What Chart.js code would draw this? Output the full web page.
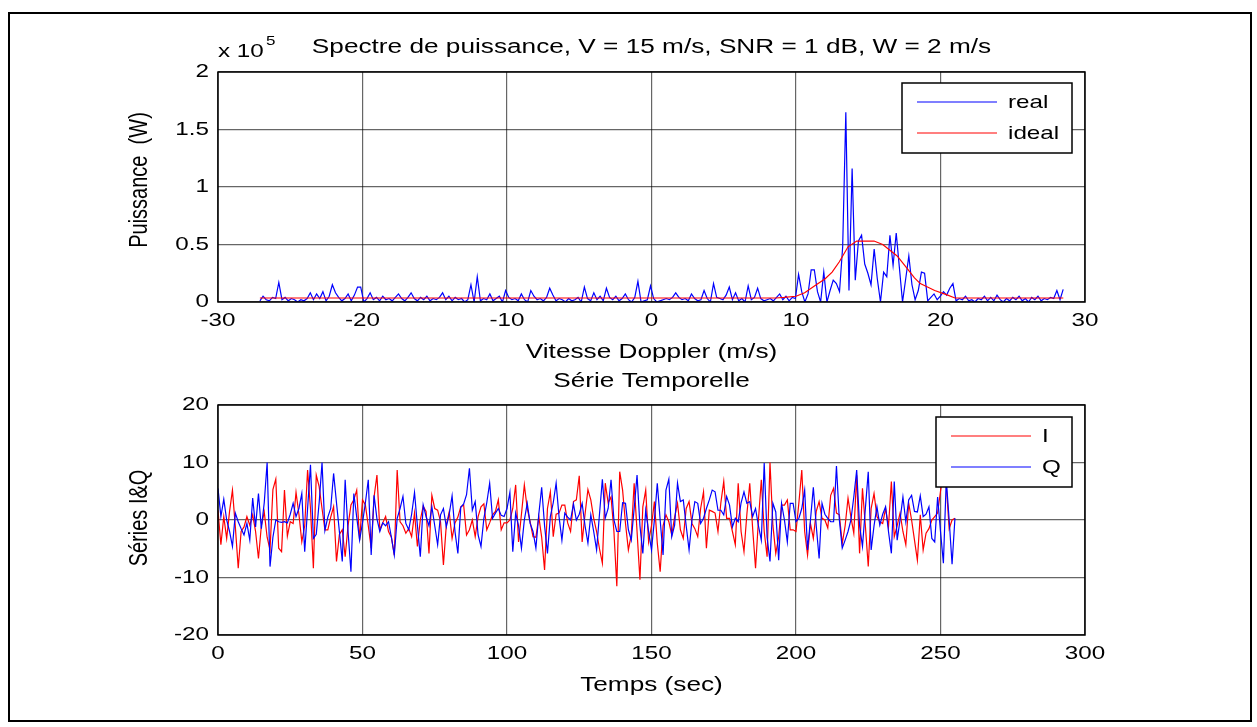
<!DOCTYPE html>
<html>
<head>
<meta charset="utf-8">
<title>Spectre de puissance</title>
<script src="https://cdn.jsdelivr.net/npm/chart.js@4.4.1/dist/chart.umd.min.js"></script>
<style>
    body { margin: 0; background: #fff; }
    #cadre { position: absolute; left: 8px; top: 12px; width: 1240px; height: 706px; border: 2px solid #000; }
    .zone { position: absolute; left: 0; width: 1257px; }
</style>
</head>
<body>
<div id="cadre"></div>
<div class="zone" style="top:0;height:365px"><canvas id="spectreChart"></canvas></div>
<div class="zone" style="top:365px;height:362px"><canvas id="serieChart"></canvas></div>
<script>
// Spectre : 256 bins en vitesse, puissance en unités de 1e5 W
const vitesseMin = -27.1;
const pasVitesse = 0.218;
const puissanceReelle = [
    0.01, 0.05, 0.02, 0.01, 0.04, 0.03, 0.17, 0.02, 0.04, 0.01,
    0.03, 0.02, 0.00, 0.02, 0.01, 0.03, 0.08, 0.02, 0.07, 0.03,
    0.09, 0.01, 0.05, 0.15, 0.08, 0.04, 0.01, 0.03, 0.07, 0.01,
    0.06, 0.13, 0.13, 0.00, 0.03, 0.08, 0.02, 0.04, 0.01, 0.05,
    0.02, 0.03, 0.01, 0.04, 0.07, 0.03, 0.01, 0.04, 0.08, 0.03,
    0.01, 0.04, 0.02, 0.05, 0.01, 0.03, 0.02, 0.04, 0.08, 0.02,
    0.05, 0.01, 0.04, 0.02, 0.03, 0.00, 0.02, 0.15, 0.00, 0.22,
    0.01, 0.03, 0.02, 0.07, 0.01, 0.03, 0.05, 0.00, 0.10, 0.04,
    0.02, 0.03, 0.01, 0.07, 0.02, 0.00, 0.10, 0.05, 0.02, 0.03,
    0.01, 0.04, 0.12, 0.06, 0.01, 0.03, 0.02, 0.00, 0.03, 0.01,
    0.02, 0.04, 0.00, 0.13, 0.03, 0.01, 0.08, 0.02, 0.05, 0.01,
    0.12, 0.04, 0.02, 0.05, 0.01, 0.03, 0.07, 0.02, 0.00, 0.04,
    0.18, 0.00, 0.01, 0.02, 0.14, 0.03, 0.00, 0.01, 0.02, 0.03,
    0.02, 0.04, 0.08, 0.04, 0.02, 0.03, 0.01, 0.07, 0.03, 0.01,
    0.02, 0.10, 0.03, 0.00, 0.16, 0.04, 0.03, 0.02, 0.06, 0.13,
    0.02, 0.08, 0.01, 0.03, 0.00, 0.14, 0.02, 0.04, 0.12, 0.03,
    0.01, 0.02, 0.03, 0.01, 0.04, 0.07, 0.02, 0.05, 0.01, 0.04,
    0.03, 0.24, 0.09, 0.00, 0.07, 0.28, 0.28, 0.09, 0.00, 0.26,
    0.00, 0.10, 0.19, 0.16, 0.09, 0.48, 1.65, 0.10, 1.16, 0.19,
    0.53, 0.58, 0.33, 0.25, 0.15, 0.46, 0.20, 0.00, 0.26, 0.22,
    0.58, 0.32, 0.60, 0.30, 0.00, 0.20, 0.40, 0.15, 0.02, 0.10,
    0.26, 0.25, 0.01, 0.04, 0.07, 0.02, 0.05, 0.09, 0.06, 0.12,
    0.16, 0.01, 0.03, 0.02, 0.05, 0.01, 0.02, 0.00, 0.03, 0.02,
    0.05, 0.01, 0.04, 0.01, 0.06, 0.02, 0.00, 0.03, 0.01, 0.04,
    0.02, 0.05, 0.01, 0.03, 0.00, 0.04, 0.02, 0.05, 0.01, 0.03,
    0.02, 0.04, 0.03, 0.10, 0.02, 0.11
];
// Spectre théorique (gaussienne + plancher de bruit)
const vitesseIdeale = [-27.1, 8.6, 9.2, 10.0, 10.6, 11.4, 12.0, 12.5, 13.0, 13.6, 14.2,
    15.4, 16.0, 16.5, 17.0, 17.7, 18.2, 18.6, 19.1, 19.6, 20.5, 21.0, 28.5];
const puissanceIdeale = [0.035, 0.035, 0.04, 0.05, 0.08, 0.15, 0.20, 0.26, 0.35, 0.48, 0.53,
    0.53, 0.50, 0.45, 0.40, 0.29, 0.21, 0.16, 0.13, 0.10, 0.06, 0.035, 0.035];

// Série temporelle I/Q, un échantillon par seconde
const serieI = [
    1.7, -4.3, 0.6, -3.2, 1.5, 5.2, -1.2, -8.4, -2, -1.2,
    0.6, -0.9, 0.9, -2, -6.7, -1, 1.4, -3, -5.2, 5.3,
    7.1, -4.9, -5.5, 5.2, -2.8, -0.3, -0.6, 4.8, 1, -3.8,
    -1, 8.7, 2, -8.4, 7.8, 5.8, 2, -1.7, -1.7, 0.5,
    2.3, -7.2, -2.5, -1.7, -6.4, -1, 2.6, 3.5, 5.2, -3.5,
    3.5, 2.6, -1, -4.9, 4, 7.8, -1.7, -0.5, 0.6, -2,
    -3, -6.1, 8.7, -0.3, -1, -2.3, -1.5, -2.9, 1.2, -4.6,
    0, 2.4, 1.5, -5.8, 4.3, 2, 1.7, -0.3, -7.8, -0.9,
    1.4, -3.2, -0.5, 0.5, 2.3, 2.6, -2.6, -1.7, 0, -2.9,
    0.6, 2.3, 2.8, -1.7, -0.5, 0.9, 1.5, 3.5, -1.7, -0.5,
    -0.5, 0, 2, 6.1, -3.8, 1, 6.1, 2, -0.3, -2.9,
    -3, 0.6, -3, -8.7, 2, 4.9, -2.9, 1, 1.2, 2.6,
    2.6, -0.5, -2, 3.2, 3.5, 7.7, -3.8, 1, 5.3, 3.5,
    0.3, -2, -5, -7.5, 6.4, 3, 4, -2, -11.5, 8.4,
    5.2, -0.6, -5.2, -2.6, 6.4, -2, -10.4, 2.3, 5.2, -3.8,
    -1, 3.2, -4, -9, -1, 0.9, -0.3, -2.6, 0.5, 2.9,
    -1.7, -3.2, 2, 3.2, -0.6, -1.5, -2.9, 2, 4.9, -4.9,
    1.7, 1.5, 1.2, -2, 3, 6.7, 0.3, 0.3, -2, -4.3,
    6.4, -2, -5.5, 1, 6.4, -1.5, -8.4, 0, 7, -2,
    -6.4, 10, -0.9, -5.8, -3, 2.6, 2.6, 3.5, -1.7, -1.7,
    -2, 3, 8.7, -2, -6.1, -0.6, -3.2, 1.5, 3.2, 0.3,
    0, -1.4, 4.3, 5.5, 1.2, 0.9, -4.1, -1, 3.8, 0.5,
    -2.3, 7.8, -5.8, 5.5, -1, -8.1, 2, 4.6, 0.6, -0.3,
    -0.6, 2, -1.2, 6.7, -2.9, -1, 1.2, -2, -4.3, 2.9,
    0, -3.5, -7, 0.9, -5.2, -2.3, -1.5, 0, 0.6, 1.2,
    5, 8, 6, -1.5, 0, 0.3
];
const serieQ = [
    5.5, 0.6, 3.6, 0, -2, -4.6, 1.2, -0.3, -1.5, -2.6,
    -0.6, -3.5, 3.8, -1.2, 4.6, -1.5, 3, 10, -8.1, -3,
    0, -0.3, -0.4, -0.3, -0.5, 1, 2.9, 0.6, 2, 4.6,
    -5.5, 2, 9.6, -3.2, -2.5, 3, 10, -1.8, 0.5, 2,
    8.1, 3, -2, -7.2, 7, -2, -9, 4.6, 0.5, -3.5,
    -0.5, 3, 7, -6.1, 4.3, 0.2, -2, -0.5, -1, -0.3,
    -3, -6.1, 0.3, 2, 4.1, -0.6, -1.7, 1, 4.8, -1,
    -6.4, 2.6, 0.6, -1, 2.3, -1, -4.3, 0.9, 2, -1.2,
    1, 4.2, -2, -5.8, 2.2, 2.8, 4.4, 9, 1.7, 3.2,
    -2.6, -4.6, 0.3, 3, 6.4, 0.3, 1.2, 2, 0.8, 0.6,
    2, 4.8, -5.5, 1.2, -1, -4.9, 0, 2.9, -0.6, -2,
    -4.9, 1, 5.7, -1, -5.8, 0.6, 3, 6.4, 0.6, -3.5,
    1.2, 0.5, 0, 2.8, 0, 1, 2.9, -1, -4, 0.9,
    -2, -5.2, 1, 7.1, 0.3, 2, 7, 0, -2, -2,
    3, 2.9, -1.7, -3.5, 2, 7.8, -1, -5.8, 1.7, -2,
    -5.2, 0, 6.4, 0, -6.1, 5.2, 7.1, -2.9, -0.9, 6.4,
    3.2, 3.5, -1, -5.2, 0, 3.2, 2.9, -0.6, 0.3, 2,
    3.5, 5.2, 4.9, 1.7, 1.7, 0.9, 4.1, 2.6, -1.2, 0.3,
    -0.3, 3, 4.9, 2.9, 3.2, 0.6, 2, -1, -3.5, 9.9,
    -3, -7.2, 2.9, 1.4, -7, 2.9, 0, -3.8, 2.9, 2.9,
    -0.3, 0.3, 2, 5.2, -5.2, 0, 5.7, -1, -6.7, 2.9,
    1, 0.3, -0.3, -0.3, 9.4, 0, -4.9, -3.5, -2, 0,
    4, 8.7, -1, -4.6, 2, 8.4, -5.2, -1, 2.3, -0.9,
    1, 2.3, -2, -5.8, 6.7, -3.5, 0, 4, -0.3, 3.5,
    4.3, 1.5, 1.4, 4.2, 0.6, 1, 2.3, -3.2, -3.8, 4,
    -2, -7.5, 7, 0, -7.7, 0.3
];

const ticksVitesse = [-30, -20, -10, 0, 10, 20, 30];
const ticksPuissance = [0, 0.5, 1, 1.5, 2];
const ticksTemps = [0, 50, 100, 150, 200, 250, 300];
const ticksIQ = [-20, -10, 0, 10, 20];

const FAMILLE = "'Liberation Sans', Arial, Helvetica, sans-serif";
const police = (taille) => taille + 'px ' + FAMILLE;
const ETIRE = 1.31;          // les textes de la figure sont élargis horizontalement
const TAILLE_TICK = 18.5;
const TAILLE_LABEL = 20;

function texte(ctx, txt, x, y, taille, align, angle) {
    ctx.save();
    ctx.translate(x, y);
    ctx.scale(ETIRE, 1);
    if (angle) ctx.rotate(angle);
    ctx.font = police(taille);
    ctx.textAlign = align;
    ctx.textBaseline = 'middle';
    ctx.fillStyle = '#000';
    ctx.fillText(txt, 0, 0);
    ctx.restore();
}

// cadre des axes, graduations, titres, exposant et légende encadrée
const habillage = {
    id: 'habillage',
    afterDatasetsDraw(chart, args, opts) {
        const { ctx, chartArea: a, scales } = chart;
        ctx.save();
        ctx.strokeStyle = '#000';
        ctx.lineWidth = 1.5;
        ctx.strokeRect(a.left, a.top, a.right - a.left, a.bottom - a.top);
        ctx.restore();

        opts.ticksX.forEach(v => texte(ctx, String(v), scales.x.getPixelForValue(v), a.bottom + 19, TAILLE_TICK, 'center'));
        opts.ticksY.forEach(v => texte(ctx, String(v), a.left - 9, scales.y.getPixelForValue(v), TAILLE_TICK, 'right'));

        const cx = (a.left + a.right) / 2;
        texte(ctx, opts.titre, cx, a.top - opts.titreDy, TAILLE_LABEL, 'center');
        texte(ctx, opts.labelX, cx, a.bottom + 50, TAILLE_LABEL, 'center');
        texte(ctx, opts.labelY, 140, opts.labelYc, TAILLE_LABEL, 'center', -Math.PI / 2);

        if (opts.exposant) {
            texte(ctx, 'x 10', a.left, a.top - 20, TAILLE_TICK, 'left');
            texte(ctx, opts.exposant, a.left + 48, a.top - 31, 13, 'left');
        }

        const lg = opts.legende;
        const x0 = a.right - 13 - lg.w;
        const y0 = a.top + lg.dy;
        ctx.save();
        ctx.fillStyle = '#fff';
        ctx.fillRect(x0, y0, lg.w, 70);
        ctx.strokeStyle = '#000';
        ctx.lineWidth = 1.5;
        ctx.strokeRect(x0, y0, lg.w, 70);
        ctx.restore();
        lg.ordre.forEach((idx, k) => {
            const ds = chart.data.datasets[idx];
            const y = y0 + 19 + k * 31;
            ctx.save();
            ctx.strokeStyle = ds.borderColor;
            ctx.lineWidth = 1.2;
            ctx.beginPath();
            ctx.moveTo(x0 + 15, y);
            ctx.lineTo(x0 + 95, y);
            ctx.stroke();
            ctx.restore();
            texte(ctx, ds.label, x0 + 106, y + 1, TAILLE_TICK, 'left');
        });
    }
};

const grille = { color: 'rgba(0,0,0,0.6)', lineWidth: 1.2, drawTicks: false };

function axeX(ticksList, hauteur) {
    return {
        type: 'linear',
        min: ticksList[0],
        max: ticksList[ticksList.length - 1],
        afterBuildTicks: (s) => { s.ticks = ticksList.map(v => ({ value: v })); },
        afterFit: (s) => { s.height = hauteur; },
        grid: grille,
        border: { display: false },
        ticks: { display: false }
    };
}

function axeY(ticksList) {
    return {
        min: ticksList[0],
        max: ticksList[ticksList.length - 1],
        afterBuildTicks: (s) => { s.ticks = ticksList.map(v => ({ value: v })); },
        afterFit: (s) => { s.width = 218; },
        grid: grille,
        border: { display: false },
        ticks: { display: false }
    };
}

const communes = {
    responsive: true,
    maintainAspectRatio: false,
    devicePixelRatio: 1,
    animation: false,
    events: [],
    elements: { point: { radius: 0 }, line: { tension: 0, borderWidth: 1.2 } }
};

window.renderSpectreChart = () => {
    const canvas = document.getElementById('spectreChart');
    if (!canvas) return false;
    new Chart(canvas.getContext('2d'), {
        type: 'line',
        data: {
            datasets: [{
                label: 'real',
                data: puissanceReelle.map((p, i) => ({ x: vitesseMin + i * pasVitesse, y: p })),
                borderColor: '#0000ff',
                order: 1
            }, {
                label: 'ideal',
                data: puissanceIdeale.map((p, i) => ({ x: vitesseIdeale[i], y: p })),
                borderColor: '#ff0000',
                order: 0
            }]
        },
        options: {
            ...communes,
            layout: { padding: { top: 72, right: 172, bottom: 0, left: 0 } },
            scales: {
                x: axeX(ticksVitesse, 63),
                y: axeY(ticksPuissance)
            },
            plugins: {
                legend: { display: false },
                tooltip: { enabled: false },
                habillage: {
                    titre: 'Spectre de puissance, V = 15 m/s, SNR = 1 dB, W = 2 m/s',
                    titreDy: 25,
                    labelX: 'Vitesse Doppler (m/s)',
                    labelY: 'Puissance  (W)',
                    labelYc: 180,
                    ticksX: ticksVitesse,
                    ticksY: ticksPuissance,
                    exposant: '5',
                    legende: { w: 170, dy: 11, ordre: [0, 1] }
                }
            }
        },
        plugins: [habillage]
    });
    return true;
};

window.renderSerieChart = () => {
    const canvas = document.getElementById('serieChart');
    if (!canvas) return false;
    new Chart(canvas.getContext('2d'), {
        type: 'line',
        data: {
            datasets: [{
                label: 'I',
                data: serieI.map((v, t) => ({ x: t, y: v })),
                borderColor: '#ff0000',
                order: 1
            }, {
                label: 'Q',
                data: serieQ.map((v, t) => ({ x: t, y: v })),
                borderColor: '#0000ff',
                order: 0
            }]
        },
        options: {
            ...communes,
            layout: { padding: { top: 40, right: 172, bottom: 0, left: 0 } },
            scales: {
                x: axeX(ticksTemps, 92),
                y: axeY(ticksIQ)
            },
            plugins: {
                legend: { display: false },
                tooltip: { enabled: false },
                habillage: {
                    titre: 'Série Temporelle',
                    titreDy: 24,
                    labelX: 'Temps (sec)',
                    labelY: 'Séries I&Q',
                    labelYc: 153,
                    ticksX: ticksTemps,
                    ticksY: ticksIQ,
                    legende: { w: 136, dy: 12, ordre: [0, 1] }
                }
            }
        },
        plugins: [habillage]
    });
    return true;
};

renderSpectreChart();
renderSerieChart();
</script>
</body>
</html>
